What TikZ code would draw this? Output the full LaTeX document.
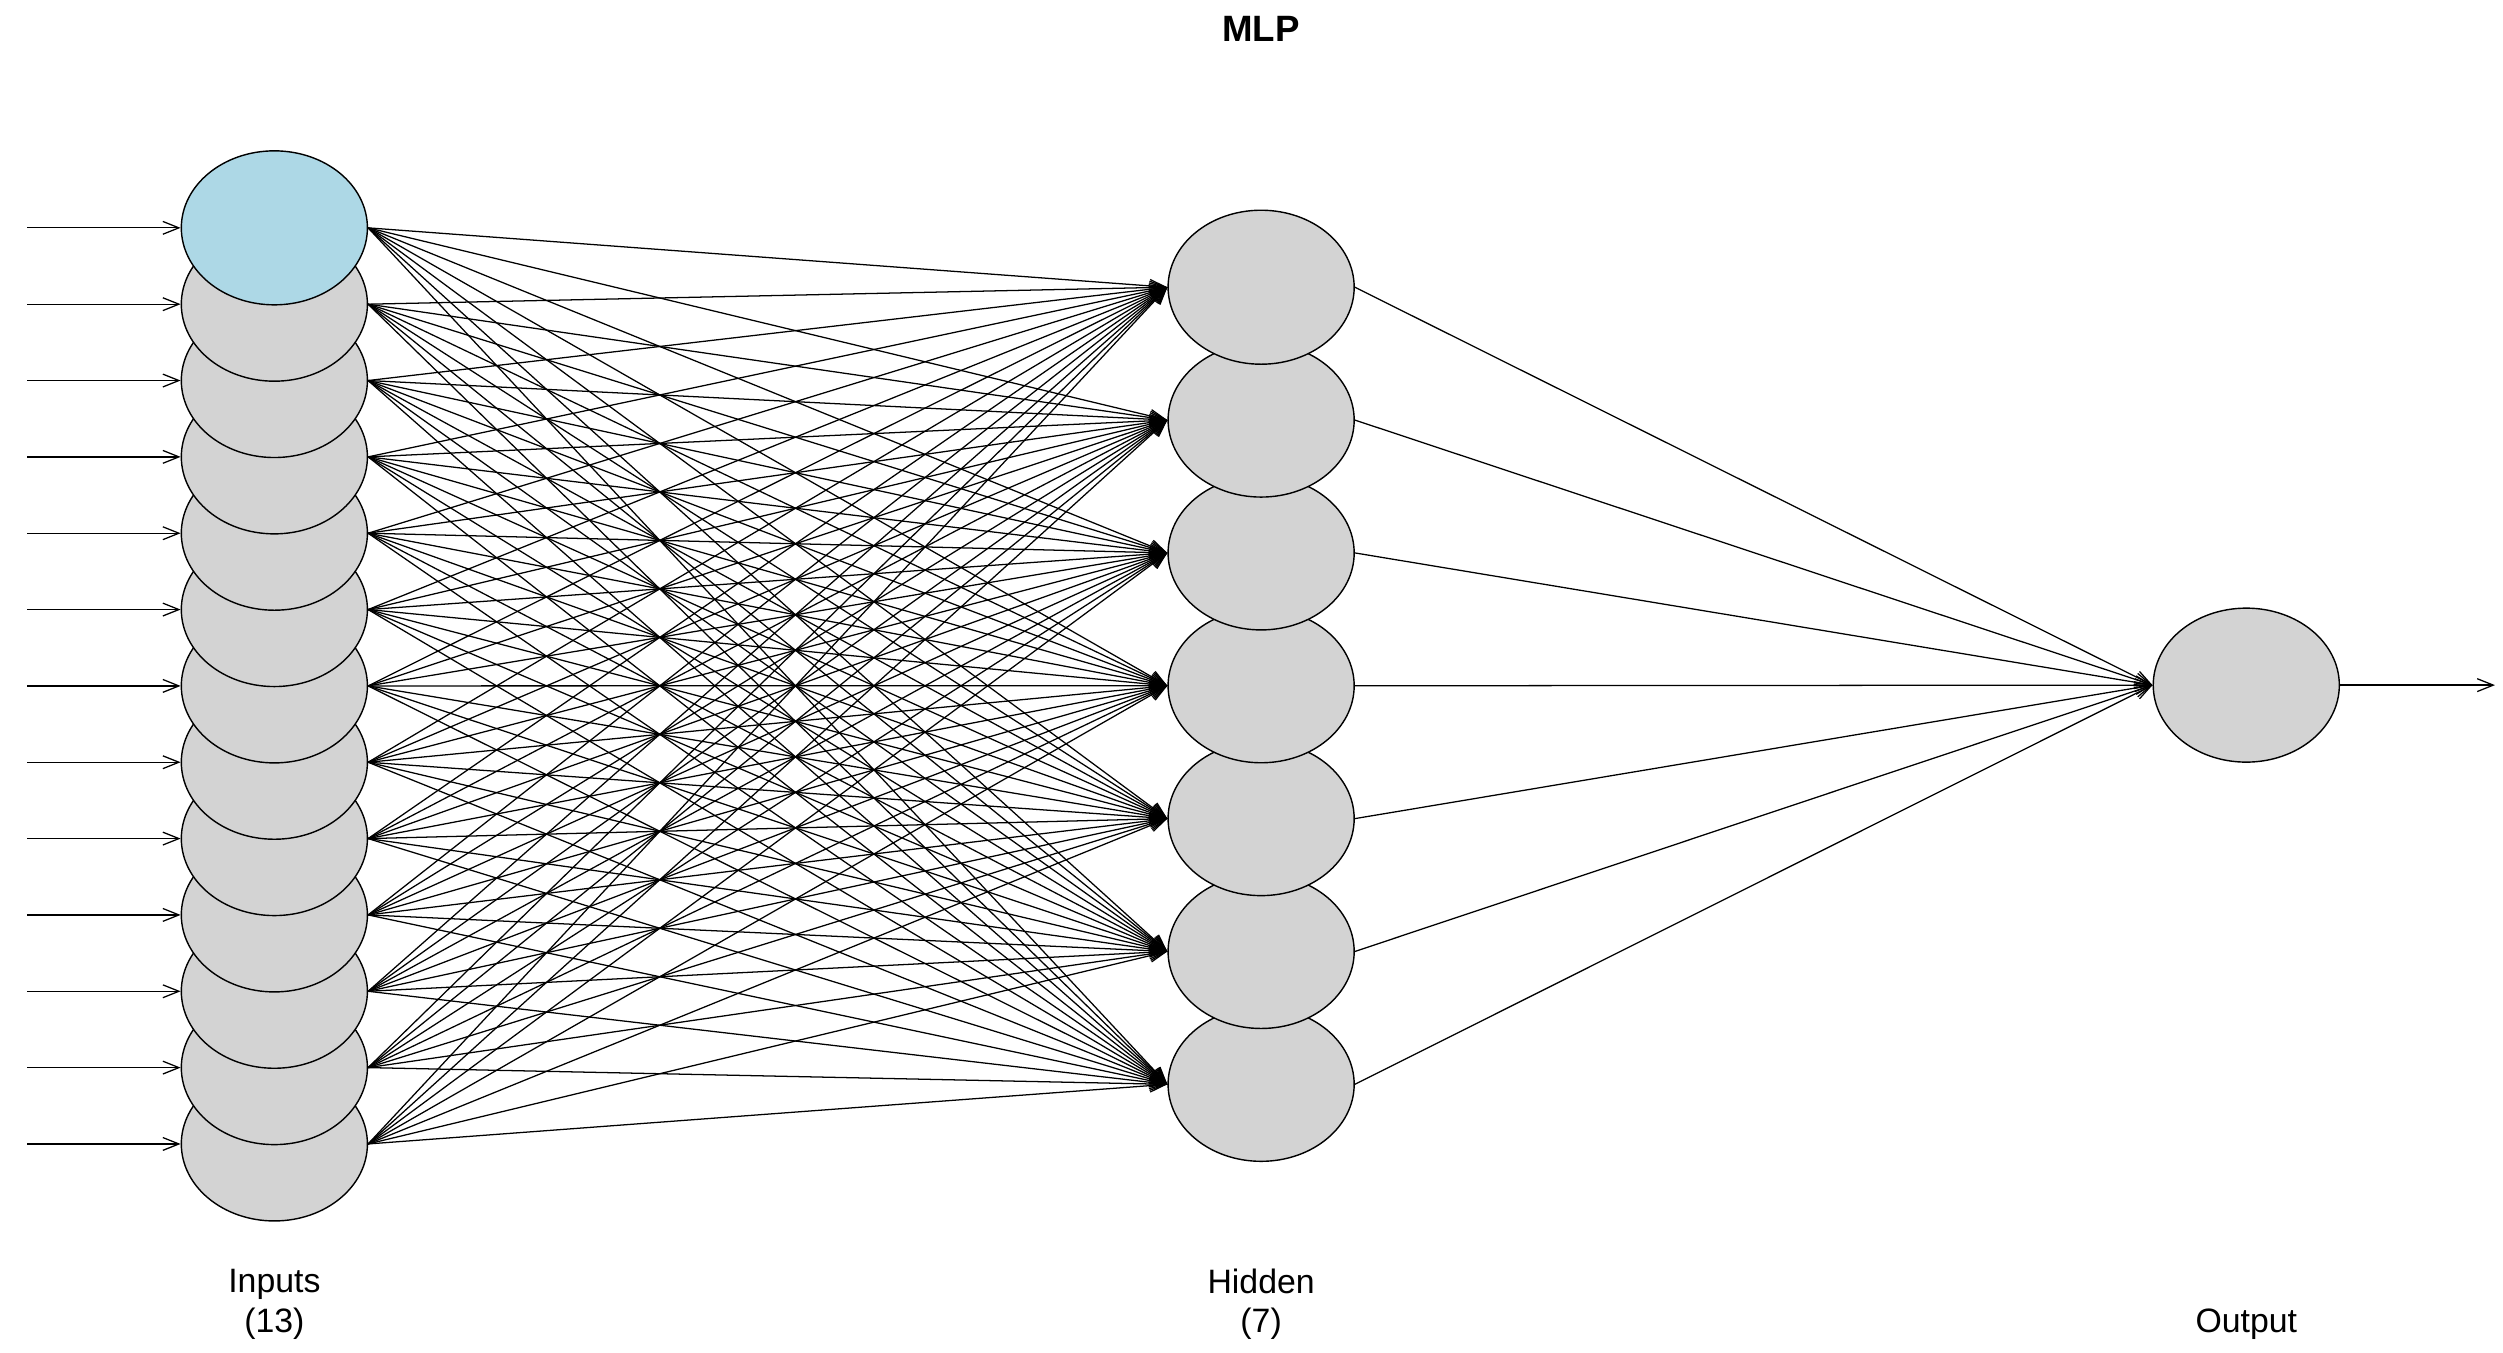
\documentclass[tikz,border=0pt]{standalone}
\usepackage{fontspec}
\setmainfont{Liberation Sans}
\usetikzlibrary{shapes.geometric,arrows.meta}
\definecolor{ngray}{RGB}{211,211,211}
\definecolor{nblue}{RGB}{173,216,230}
\begin{document}
\begin{tikzpicture}[x=0.02cm,y=-0.02cm,
  neuron/.style={ellipse,draw,line width=0.5pt,fill=ngray,minimum width=2.32cm,minimum height=1.92cm,inner sep=0pt},
  conn/.style={line width=0.45pt,-{Straight Barb[length=0.2cm,width=0.16cm]}},
  lab/.style={font=\fontsize{12}{14}\selectfont,align=center}]
\useasboundingbox (0,0) rectangle (1560,843);
% inputs, drawn bottom to top
\foreach \i in {13,12,...,1}{
  \pgfmathsetmacro{\yy}{142+(\i-1)*47.58}
  \ifnum\i=1
    \node[neuron,fill=nblue] (i\i) at (171,\yy) {};
  \else
    \node[neuron] (i\i) at (171,\yy) {};
  \fi
  \coordinate (s\i) at (17,\yy);
}
\foreach \j in {7,6,...,1}{
  \pgfmathsetmacro{\yy}{179+(\j-1)*82.8}
  \node[neuron] (h\j) at (786,\yy) {};
}
\node[neuron] (o) at (1400,427) {};
\coordinate (e) at (1555,427);
\foreach \i in {1,...,13}{
  \draw[conn] (s\i) -- (i\i.west);
  \foreach \j in {1,...,7}{ \draw[conn] (i\i.east) -- (h\j.west); }
}
\foreach \j in {1,...,7}{ \draw[conn] (h\j.east) -- (o.west); }
\draw[conn] (o.east) -- (e);
\node[font=\fontsize{13}{15}\selectfont\bfseries] (t) at (786,18) {MLP};
\node[lab] (li) at (171,813) {Inputs\\(13)};
\node[lab] (lh) at (786,813) {Hidden\\(7)};
\node[lab] (lo) at (1400,825) {Output};
\end{tikzpicture}
\end{document}
